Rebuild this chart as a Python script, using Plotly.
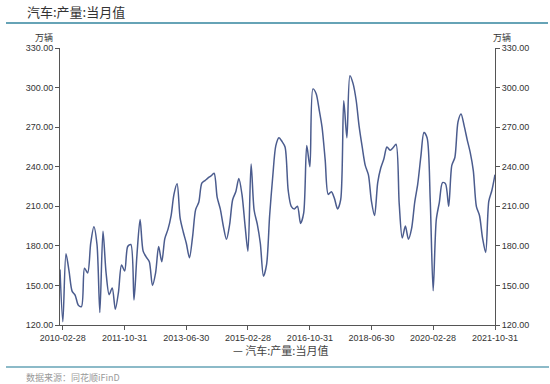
import calendar
import plotly.graph_objects as go

# ---- data ----
months = []
for yr in range(2010, 2022):
    for mo in range(1, 13):
        if yr == 2021 and mo > 10:
            break
        months.append(f"{yr}-{mo:02d}-{calendar.monthrange(yr, mo)[1]:02d}")

output = [
    162, 122.5, 174, 161, 145.5, 142.5, 135, 134, 163, 159.5, 182, 194.5,
    181, 129.5, 191, 160, 143, 148, 132, 145, 165.5, 161, 179.5, 181,
    139, 173, 200, 176, 171.5, 168, 150, 159.5, 179.5, 168, 185.5, 192.5,
    203, 219, 227, 201, 190.5, 182, 171, 187, 207.5, 213, 227.5, 229.5,
    231.5, 233, 235, 217, 208, 195, 185, 196, 215, 221, 231, 219,
    195, 176, 242, 207, 196.5, 182, 157, 166, 203, 233, 256, 262,
    259, 255, 222, 210, 208, 210, 197, 205, 256, 240, 299, 295.5,
    283, 270, 245, 219, 221, 216, 208, 215, 290, 262, 309, 303,
    290, 271, 255, 241, 234, 214, 203, 228, 239, 246, 255, 252.5,
    254.5, 257, 212, 186, 195, 185, 193, 213, 227, 248, 266, 262,
    215, 146, 200, 213, 228, 227, 210, 241, 247, 274, 280, 271,
    260, 251, 237, 210, 203, 186, 175, 214, 222, 234,
]
tick_dates = ["2010-02-28", "2011-10-31", "2013-06-30", "2015-02-28",
              "2016-10-31", "2018-06-30", "2020-02-28", "2021-10-31"]
y_ticks = [120, 150, 180, 210, 240, 270, 300, 330]
series_name = "汽车:产量:当月值"
unit = "万辆"
source_text = "数据来源：同花顺iFinD"

# ---- layout geometry ----
W, H = 550, 384
L, R, T, B = 60, 495, 48, 325


def px(x):
    return (x - L) / (R - L)


def py(y):
    return (B - y) / (B - T)


LINE_COLOR = "#4b5c8e"
TEAL = "#66a3b6"
TXT = "#333333"
NUM_FONT = "Liberation Sans, Arial, sans-serif"
CJK_FONT = "Noto Sans CJK SC, sans-serif"

fig = go.Figure()
fig.add_trace(go.Scatter(
    x=months, y=output, mode="lines", name=series_name,
    line=dict(color=LINE_COLOR, width=1.5, shape="spline", smoothing=0.8),
    showlegend=False,
))
# invisible twin trace so that the right-hand axis is drawn
fig.add_trace(go.Scatter(
    x=months, y=output, mode="lines", yaxis="y2", opacity=0,
    line=dict(width=0), hoverinfo="skip", showlegend=False,
))

axis_common = dict(
    range=[120, 330], tickvals=y_ticks, tickformat=".2f",
    showgrid=False, zeroline=False, showline=True, linecolor="#555555",
    linewidth=1, ticks="outside", ticklen=4, tickcolor="#555555",
    tickfont=dict(family=NUM_FONT, size=9, color=TXT),
)

fig.update_layout(
    width=W, height=H,
    margin=dict(l=L, r=W - R, t=T, b=H - B, pad=0),
    paper_bgcolor="white", plot_bgcolor="white",
    xaxis=dict(
        type="date", range=[months[0], months[-1]],
        tickvals=tick_dates, ticktext=tick_dates,
        showgrid=False, zeroline=False, showline=True, linecolor="#555555",
        linewidth=1, ticks="outside", ticklen=4, tickcolor="#555555",
        tickfont=dict(family=NUM_FONT, size=9, color=TXT),
    ),
    yaxis=dict(side="left", **axis_common),
    yaxis2=dict(side="right", overlaying="y", **axis_common),
    showlegend=False,
)

annotations = [
    dict(x=px(25), y=py(12), text=series_name, xanchor="left", yanchor="middle",
         font=dict(family=CJK_FONT, size=13, color=TXT)),
    dict(x=px(44), y=py(38), text=unit, xanchor="center", yanchor="middle",
         font=dict(family=CJK_FONT, size=9, color=TXT)),
    dict(x=px(502), y=py(38), text=unit, xanchor="center", yanchor="middle",
         font=dict(family=CJK_FONT, size=9, color=TXT)),
    dict(x=px(280), y=py(350), text="— " + series_name, xanchor="center",
         yanchor="middle", font=dict(family=CJK_FONT, size=11, color="#444444")),
    dict(x=px(24), y=py(377), text=source_text, xanchor="left", yanchor="middle",
         font=dict(family=CJK_FONT, size=9, color="#999999")),
]
for a in annotations:
    a.update(xref="paper", yref="paper", showarrow=False)
fig.update_layout(annotations=annotations)

fig.update_layout(shapes=[
    dict(type="line", xref="paper", yref="paper", x0=px(6), x1=px(548),
         y0=py(23), y1=py(23), line=dict(color=TEAL, width=2)),
    dict(type="line", xref="paper", yref="paper", x0=px(6), x1=px(549),
         y0=py(367), y1=py(367), line=dict(color=TEAL, width=1.5)),
])

fig.write_html(
    "out.html",
    config={"displayModeBar": False},
    post_script="document.body.style.margin='0';document.body.style.padding='0';",
)
